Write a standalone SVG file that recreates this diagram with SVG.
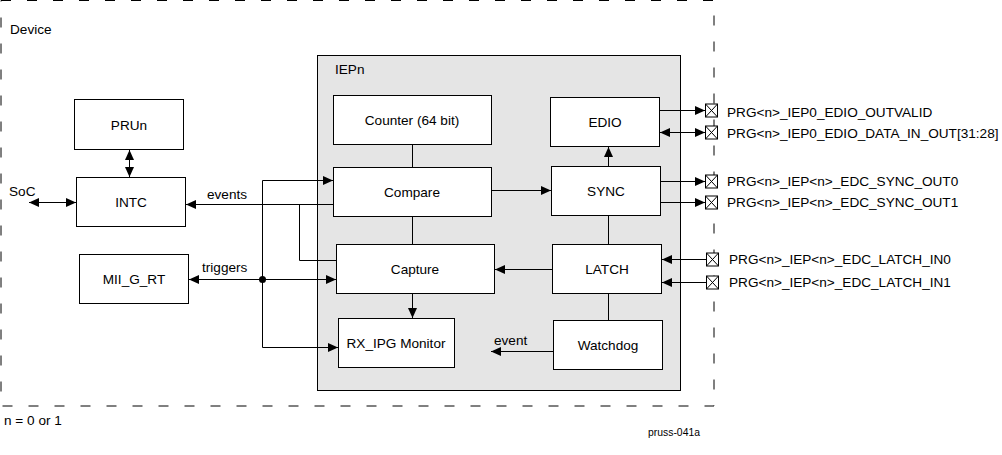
<svg xmlns="http://www.w3.org/2000/svg" width="1002" height="455" viewBox="0 0 1002 455">
<style>
text{font-family:"Liberation Sans",Arial,sans-serif;font-size:13.6px;fill:#000}
.c{text-anchor:middle}
.box{fill:#fff;stroke:#000;stroke-width:1}
.ln{fill:none;stroke:#000;stroke-width:1}
.pin{fill:#fff;stroke:#000;stroke-width:1}
</style>
<defs>
<marker id="ah" markerUnits="userSpaceOnUse" markerWidth="10" markerHeight="10" viewBox="0 0 10 10" refX="10" refY="5" orient="auto-start-reverse">
<path d="M0,0.5 L10,5 L0,9.5 z" fill="#000"/>
</marker>
</defs>
<rect id="device" x="1" y="0.5" width="713" height="405.5" fill="none" stroke="#000" stroke-dasharray="10 16"/>
<text x="10" y="34">Device</text>
<g id="iepn"><rect x="317.5" y="55.5" width="363" height="335" fill="#e5e5e5" stroke="#000"/><text x="335" y="74">IEPn</text></g>
<g id="prun"><rect class="box" x="74.5" y="99.5" width="109" height="50"/><text class="c" x="129" y="130">PRUn</text></g>
<g id="intc"><rect class="box" x="76.5" y="177.5" width="109" height="49"/><text class="c" x="131" y="207">INTC</text></g>
<g id="miigrt"><rect class="box" x="79.5" y="254.5" width="109" height="49"/><text class="c" x="134" y="284">MII_G_RT</text></g>
<g id="counter"><rect class="box" x="333.5" y="95.5" width="158" height="49"/><text class="c" x="412" y="125">Counter (64 bit)</text></g>
<g id="compare"><rect class="box" x="333.5" y="167.5" width="158" height="49"/><text class="c" x="412" y="197">Compare</text></g>
<g id="capture"><rect class="box" x="336.5" y="244.5" width="158" height="49"/><text class="c" x="415" y="274">Capture</text></g>
<g id="rxipg"><rect class="box" x="338.5" y="318.5" width="116" height="49"/><text class="c" x="396" y="348">RX_IPG Monitor</text></g>
<g id="edio"><rect class="box" x="550.5" y="97.5" width="109" height="49"/><text class="c" x="605" y="127">EDIO</text></g>
<g id="sync"><rect class="box" x="551.5" y="166.5" width="109" height="49"/><text class="c" x="606" y="196">SYNC</text></g>
<g id="latch"><rect class="box" x="552.5" y="244.5" width="109" height="49"/><text class="c" x="607" y="274">LATCH</text></g>
<g id="watchdog"><rect class="box" x="553.5" y="320.5" width="109" height="49"/><text class="c" x="608" y="350">Watchdog</text></g>
<g id="connectors">
<line class="ln" x1="129.5" y1="150" x2="129.5" y2="177" marker-start="url(#ah)" marker-end="url(#ah)"/>
<line class="ln" x1="29" y1="202.5" x2="76" y2="202.5" marker-start="url(#ah)" marker-end="url(#ah)"/>
<line class="ln" x1="333" y1="204.5" x2="186" y2="204.5" marker-end="url(#ah)"/>
<polyline class="ln" points="336,260.5 299.5,260.5 299.5,204.5"/>
<line class="ln" x1="262.5" y1="279.5" x2="189" y2="279.5" marker-end="url(#ah)"/>
<line class="ln" x1="262.5" y1="279.5" x2="336" y2="279.5" marker-end="url(#ah)"/>
<polyline class="ln" points="262.5,279.5 262.5,180.5 333,180.5" marker-end="url(#ah)"/>
<polyline class="ln" points="262.5,279.5 262.5,347.5 338,347.5" marker-end="url(#ah)"/>
<circle cx="262.5" cy="279.5" r="3.5" fill="#000"/>
<line class="ln" x1="412.5" y1="145" x2="412.5" y2="167"/>
<line class="ln" x1="412.5" y1="217" x2="412.5" y2="244"/>
<line class="ln" x1="412.5" y1="294" x2="412.5" y2="318" marker-end="url(#ah)"/>
<line class="ln" x1="492" y1="190.5" x2="551" y2="190.5" marker-end="url(#ah)"/>
<line class="ln" x1="608.5" y1="166" x2="608.5" y2="147" marker-end="url(#ah)"/>
<line class="ln" x1="608.5" y1="216" x2="608.5" y2="244"/>
<line class="ln" x1="552" y1="269.5" x2="495" y2="269.5" marker-end="url(#ah)"/>
<line class="ln" x1="608.5" y1="294" x2="608.5" y2="320"/>
<line class="ln" x1="553" y1="351.5" x2="491" y2="351.5" marker-end="url(#ah)"/>
<line class="ln" x1="660" y1="110.5" x2="705" y2="110.5" marker-end="url(#ah)"/>
<line class="ln" x1="660" y1="132.5" x2="705" y2="132.5" marker-start="url(#ah)" marker-end="url(#ah)"/>
<line class="ln" x1="661" y1="181.5" x2="705" y2="181.5" marker-end="url(#ah)"/>
<line class="ln" x1="661" y1="202.5" x2="705" y2="202.5" marker-end="url(#ah)"/>
<line class="ln" x1="706" y1="259.5" x2="662" y2="259.5" marker-end="url(#ah)"/>
<line class="ln" x1="706" y1="282.5" x2="662" y2="282.5" marker-end="url(#ah)"/>
</g>
<g id="pins">
<g id="pin1"><rect class="pin" x="705.5" y="104" width="12" height="13"/><path class="ln" d="M705.5,104 L717.5,117 M717.5,104 L705.5,117"/></g>
<g id="pin2"><rect class="pin" x="705.5" y="126" width="12" height="13"/><path class="ln" d="M705.5,126 L717.5,139 M717.5,126 L705.5,139"/></g>
<g id="pin3"><rect class="pin" x="705.5" y="175" width="12" height="13"/><path class="ln" d="M705.5,175 L717.5,188 M717.5,175 L705.5,188"/></g>
<g id="pin4"><rect class="pin" x="705.5" y="196" width="12" height="13"/><path class="ln" d="M705.5,196 L717.5,209 M717.5,196 L705.5,209"/></g>
<g id="pin5"><rect class="pin" x="706.5" y="253" width="12" height="13"/><path class="ln" d="M706.5,253 L718.5,266 M718.5,253 L706.5,266"/></g>
<g id="pin6"><rect class="pin" x="706.5" y="276" width="12" height="13"/><path class="ln" d="M706.5,276 L718.5,289 M718.5,276 L706.5,289"/></g>
</g>
<text x="727" y="117">PRG&lt;n&gt;_IEP0_EDIO_OUTVALID</text>
<text x="727" y="138">PRG&lt;n&gt;_IEP0_EDIO_DATA_IN_OUT[31:28]</text>
<text x="727" y="186">PRG&lt;n&gt;_IEP&lt;n&gt;_EDC_SYNC_OUT0</text>
<text x="727" y="207">PRG&lt;n&gt;_IEP&lt;n&gt;_EDC_SYNC_OUT1</text>
<text x="729" y="264">PRG&lt;n&gt;_IEP&lt;n&gt;_EDC_LATCH_IN0</text>
<text x="729" y="287">PRG&lt;n&gt;_IEP&lt;n&gt;_EDC_LATCH_IN1</text>
<text x="9" y="196">SoC</text>
<text x="207" y="199">events</text>
<text x="202" y="272">triggers</text>
<text x="494" y="345">event</text>
<text x="4" y="425">n = 0 or 1</text>
<text x="648" y="436" style="font-size:10.4px">pruss-041a</text>
</svg>
